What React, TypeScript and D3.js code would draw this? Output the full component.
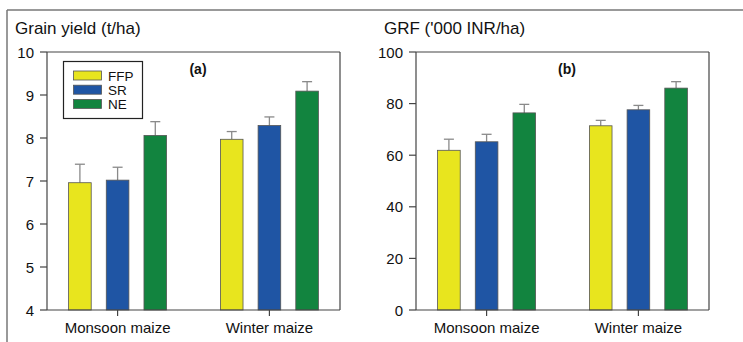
import React from 'react';
import * as d3 from 'd3';

const seasons = ['Monsoon maize', 'Winter maize'];
const treatments = ['FFP', 'SR', 'NE'];
const colors = ['#e8e51e', '#1f55a4', '#12843f'];

// grain yield (t/ha): [monsoon, winter] per treatment
const yieldMean = [[6.96, 7.97], [7.02, 8.29], [8.06, 9.09]];
const yieldErr = [[0.43, 0.18], [0.3, 0.2], [0.32, 0.22]];
const yieldTicks = [4, 5, 6, 7, 8, 9, 10];

// gross return (thousand INR/ha)
const grfMean = [[61.9, 71.4], [65.2, 77.6], [76.4, 86.0]];
const grfErr = [[4.3, 2.1], [2.9, 1.7], [3.3, 2.5]];
const grfTicks = [0, 20, 40, 60, 80, 100];

const font = 'Arial, "Liberation Sans", sans-serif';

type PanelProps = {
  x0: number;
  title: string;
  tag: string;
  means: number[][];
  errs: number[][];
  ticks: number[];
  legend?: boolean;
};

function Panel({x0, title, tag, means, errs, ticks, legend}: PanelProps) {
  const left = x0 + 47;
  const right = x0 + 340;
  const top = 52;
  const bottom = 310;

  const y = d3.scaleLinear()
    .domain([ticks[0], ticks[ticks.length - 1]])
    .range([bottom, top]);
  const x0s = d3.scalePoint()
    .domain(seasons)
    .range([left, right])
    .padding(0.465);
  const x1 = d3.scaleBand()
    .domain(treatments)
    .range([-49, 49])
    .paddingInner(0.4);

  return (
    <g>
      <text x={x0 + 15} y={34} fontSize={17} fontFamily={font} fill="#111">{title}</text>
      {/* bars */}
      {treatments.map((t, ti) => seasons.map((s, si) => {
        const bx = (x0s(s) as number) + (x1(t) as number);
        const v = means[ti][si];
        const e = v + errs[ti][si];
        const cx = bx + x1.bandwidth() / 2;
        return (
          <g key={t + s}>
            <line x1={cx} x2={cx} y1={y(v)} y2={y(e)} stroke="#8a8a8a" strokeWidth={1.3} />
            <line x1={cx - 5} x2={cx + 5} y1={y(e)} y2={y(e)} stroke="#8a8a8a" strokeWidth={1.3} />
            <rect x={bx} y={y(v)} width={x1.bandwidth()} height={bottom - y(v)}
              fill={colors[ti]} stroke="#555" strokeWidth={0.8} />
          </g>
        );
      }))}
      {/* frame */}
      <line x1={right} x2={right} y1={top} y2={bottom} stroke="#444" strokeWidth={1.2} />
      <line x1={left} x2={right} y1={top} y2={top} stroke="#444" strokeWidth={1.2} />
      <line x1={left} x2={right} y1={bottom} y2={bottom} stroke="#444" strokeWidth={1.2} />
      <line x1={left} x2={left} y1={top} y2={bottom} stroke="#444" strokeWidth={1.2} />
      {/* y axis */}
      {ticks.map(t => (
        <g key={t}>
          <line x1={left - 7} x2={left} y1={y(t)} y2={y(t)} stroke="#444" strokeWidth={1.2} />
          <text x={left - 13} y={y(t) + 5.5} textAnchor="end" fontSize={15} fontFamily={font} fill="#111">{t}</text>
        </g>
      ))}
      {/* x axis */}
      {seasons.map(s => (
        <g key={s}>
          <line x1={x0s(s)} x2={x0s(s)} y1={bottom} y2={bottom + 6} stroke="#444" strokeWidth={1.2} />
          <text x={x0s(s)} y={333} textAnchor="middle" fontSize={15} fontFamily={font} fill="#111">{s}</text>
        </g>
      ))}
      <text x={x0 + 198} y={74} textAnchor="middle" fontSize={14} fontWeight="bold" fontFamily={font} fill="#111">{tag}</text>
      {legend && (
        <g>
          <rect x={x0 + 63.5} y={61.5} width={79} height={57} fill="#fff" stroke="#222" strokeWidth={1.2} />
          {treatments.map((t, i) => (
            <g key={t}>
              <rect x={x0 + 73.5} y={71 + i * 14.2} width={28} height={9} fill={colors[i]} stroke="#555" strokeWidth={0.8} />
              <text x={x0 + 108} y={80.5 + i * 14.2} fontSize={13.5} fontFamily={font} fill="#111">{t}</text>
            </g>
          ))}
        </g>
      )}
    </g>
  );
}

export default function App() {
  return (
    <svg width={743} height={342} style={{position: 'absolute', top: 0, left: 0, background: '#fff'}}>
      <rect width={743} height={342} fill="#fff" />
      <line x1={7} x2={743} y1={10} y2={10} stroke="#777" strokeWidth={1.5} />
      <line x1={7} x2={7} y1={10} y2={342} stroke="#777" strokeWidth={1.5} />
      <Panel x0={0} title="Grain yield (t/ha)" tag="(a)" means={yieldMean} errs={yieldErr} ticks={yieldTicks} legend />
      <Panel x0={369} title="GRF ('000 INR/ha)" tag="(b)" means={grfMean} errs={grfErr} ticks={grfTicks} />
    </svg>
  );
}
